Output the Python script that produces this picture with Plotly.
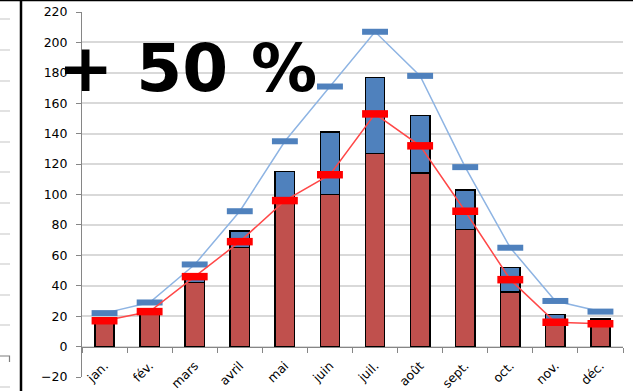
import plotly.graph_objects as go

# Monthly values
months = ["jan.", "fév.", "mars", "avril", "mai", "juin",
          "juil.", "août", "sept.", "oct.", "nov.", "déc."]
base_part = [16, 22, 42, 65, 94, 100, 127, 114, 77, 36, 16, 18]
extra_part = [2, 1, 6, 11, 21, 41, 50, 38, 26, 16, 5, 0]
red_level = [17, 23, 46, 69, 96, 113, 153, 132, 89, 44, 16, 15]
blue_level = [22, 29, 54, 89, 135, 171, 207, 178, 118, 65, 30, 23]
y_ticks = list(range(-20, 221, 20))

W, H = 633, 391
L, R, T, B = 82, 10, 12, 14
PW, PH = W - L - R, H - T - B


def px(x):
    return (x - L) / PW


def py(y):
    return (H - B - y) / PH


fig = go.Figure()

fig.add_trace(go.Bar(
    x=months, y=base_part, marker=dict(color="#C0504D", line=dict(color="#000000", width=1.5)),
    showlegend=False))
fig.add_trace(go.Bar(
    x=months, y=extra_part, marker=dict(color="#4F81BD", line=dict(color="#000000", width=1.5)),
    showlegend=False))

fig.add_trace(go.Scatter(
    x=months, y=blue_level, mode="lines+markers",
    line=dict(color="#8EB4E3", width=1.5),
    marker=dict(symbol="line-ew", size=18.5, line=dict(color="#4F81BD", width=6)),
    showlegend=False))
fig.add_trace(go.Scatter(
    x=months, y=red_level, mode="lines+markers",
    line=dict(color="#FF4747", width=1.5),
    marker=dict(symbol="line-ew", size=18.5, line=dict(color="#FF0000", width=7.5)),
    showlegend=False))

# frame decorations on the left and top
shapes = [
    dict(type="line", xref="paper", yref="paper", x0=px(0), x1=px(W), y0=py(0.5), y1=py(0.5),
         line=dict(color="#000000", width=1.5)),
    dict(type="line", xref="paper", yref="paper", x0=px(21), x1=px(21), y0=py(0), y1=py(H),
         line=dict(color="#000000", width=2.5)),
]
for yy in [19, 50, 81, 111, 142, 172, 203, 234, 264, 295, 325, 387]:
    shapes.append(dict(type="line", xref="paper", yref="paper", x0=px(0), x1=px(10),
                       y0=py(yy), y1=py(yy), line=dict(color="#D9D9D9", width=1.5)))
shapes.append(dict(type="path", xref="paper", yref="paper",
                   path=f"M{px(0)},{py(356)} L{px(9.5)},{py(356)} L{px(9.5)},{py(362)}",
                   line=dict(color="#7F7F7F", width=1.2)))

fig.update_layout(
    width=W, height=H,
    margin=dict(l=L, r=R, t=T, b=B, autoexpand=False),
    paper_bgcolor="white", plot_bgcolor="white",
    barmode="stack", bargap=0.57,
    font=dict(family="DejaVu Sans", color="#000000"),
    shapes=shapes,
    annotations=[dict(
        text="<b>+ 50 %</b>", xref="paper", yref="paper",
        x=px(187), y=py(68.5), xanchor="center", yanchor="middle",
        showarrow=False, font=dict(family="DejaVu Sans", size=66, color="#000000"))],
    xaxis=dict(
        type="category", range=[-0.5, 11.5], anchor="free", position=20 / 240,
        automargin=False,
        showline=True, linecolor="#868686", linewidth=1,
        ticks="outside", ticklen=5, tickcolor="#868686", tickson="boundaries",
        ticklabelstandoff=6,
        tickangle=-45, tickfont=dict(family="DejaVu Sans", size=12.5, color="#000000"),
        showgrid=False),
    yaxis=dict(
        range=[-20, 220], tickvals=y_ticks, automargin=False,
        showline=True, linecolor="#868686", linewidth=1,
        ticks="outside", ticklen=5, tickcolor="#868686", ticklabelstandoff=6,
        gridcolor="#D9D9D9", gridwidth=1.5, zeroline=False,
        tickfont=dict(family="DejaVu Sans", size=12.5, color="#000000")),
)

fig.write_html("out.html")
